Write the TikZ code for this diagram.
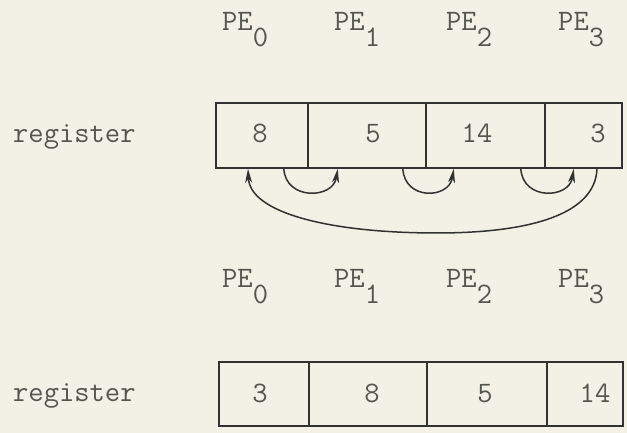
\documentclass[tikz,border=0pt]{standalone}
\usetikzlibrary{arrows.meta}
\definecolor{bg}{RGB}{243,241,229}
\definecolor{ink}{RGB}{50,50,48}
\definecolor{textgray}{RGB}{85,85,80}
\begin{document}
\begin{tikzpicture}[x=1pt,y=1pt,
  lbl/.style={font=\fontsize{29.7}{34}\selectfont\ttfamily, text=textgray, inner sep=0pt},
  cell/.style={draw=ink, line width=1.6pt, rectangle, inner sep=0pt},
  conn/.style={draw=ink, line width=1.5pt, -{Stealth[length=14pt,width=7pt,inset=4pt]}}]
\fill[bg] (0,0) rectangle (627,433);
\useasboundingbox (0,0) rectangle (627,433);

% PE labels, top row
\node[lbl, anchor=base west] (pa0) at (222,402) {PE\raisebox{-16pt}{0}};
\node[lbl, anchor=base west] (pa1) at (334,402) {PE\raisebox{-16pt}{1}};
\node[lbl, anchor=base west] (pa2) at (446,402) {PE\raisebox{-16pt}{2}};
\node[lbl, anchor=base west] (pa3) at (558,402) {PE\raisebox{-16pt}{3}};

% top register
\node[lbl, anchor=base west] (rega) at (13,290) {register};
\node[cell, minimum width=92pt,  minimum height=65pt] (t0) at (262,297.5) {};
\node[cell, minimum width=118pt, minimum height=65pt] (t1) at (367,297.5) {};
\node[cell, minimum width=119pt, minimum height=65pt] (t2) at (485.5,297.5) {};
\node[cell, minimum width=77pt,  minimum height=65pt] (t3) at (583.5,297.5) {};
\node[lbl, anchor=base] (nt0) at (260,290) {8};
\node[lbl, anchor=base] (nt1) at (373,290) {5};
\node[lbl, anchor=base] (nt2) at (477,290) {14};
\node[lbl, anchor=base] (nt3) at (598,290) {3};

% shift connectors
\draw[conn] ([xshift=-25pt]t0.south east) .. controls +(2pt,-32pt) and +(-5pt,-30pt) .. ([xshift=29pt]t0.south east);
\draw[conn] ([xshift=-24pt]t1.south east) .. controls +(2pt,-32pt) and +(-5pt,-30pt) .. ([xshift=27pt]t1.south east);
\draw[conn] ([xshift=-25pt]t2.south east) .. controls +(2pt,-32pt) and +(-5pt,-30pt) .. ([xshift=28pt]t2.south east);
\coordinate (low) at (437,200);
\draw[conn] ([xshift=13.5pt]t3.south) .. controls (595,215) and (520,200) .. (low)
            .. controls (330,200) and (250,220) .. ([xshift=-14pt]t0.south);

% PE labels, bottom row
\node[lbl, anchor=base west] (pb0) at (222,145) {PE\raisebox{-16pt}{0}};
\node[lbl, anchor=base west] (pb1) at (334,145) {PE\raisebox{-16pt}{1}};
\node[lbl, anchor=base west] (pb2) at (446,145) {PE\raisebox{-16pt}{2}};
\node[lbl, anchor=base west] (pb3) at (558,145) {PE\raisebox{-16pt}{3}};

% bottom register
\node[lbl, anchor=base west] (regb) at (13,31) {register};
\node[cell, minimum width=90pt,  minimum height=64pt] (b0) at (264,39) {};
\node[cell, minimum width=118pt, minimum height=64pt] (b1) at (368,39) {};
\node[cell, minimum width=120pt, minimum height=64pt] (b2) at (487,39) {};
\node[cell, minimum width=76pt,  minimum height=64pt] (b3) at (585,39) {};
\node[lbl, anchor=base] (nb0) at (260,30) {3};
\node[lbl, anchor=base] (nb1) at (372,30) {8};
\node[lbl, anchor=base] (nb2) at (485,30) {5};
\node[lbl, anchor=base] (nb3) at (595,30) {14};
\end{tikzpicture}
\end{document}
